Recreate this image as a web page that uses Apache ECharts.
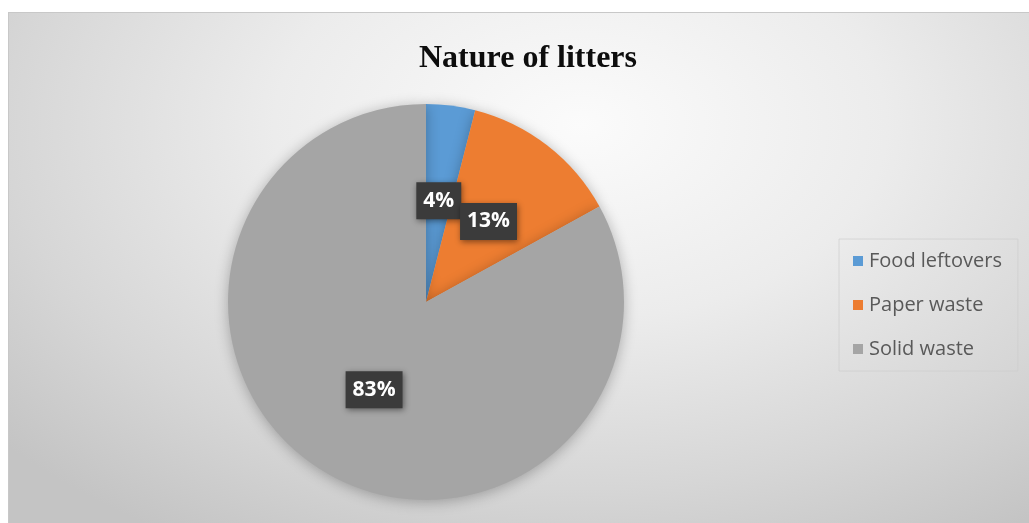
<!DOCTYPE html>
<html>
<head>
<meta charset="utf-8">
<script src="https://cdn.jsdelivr.net/npm/echarts@6/dist/echarts.min.js"></script>
<style>
  html, body { margin: 0; padding: 0; background: #ffffff; }
  #chart {
    position: absolute; left: 8px; top: 12px; width: 1021px; height: 511px;
    background: radial-gradient(ellipse 75% 95% at 56% 22%, #fbfbfb 0%, #ececec 40%, #d6d6d6 75%, #c4c4c4 100%);
    border-top: 1px solid #c8c8c8; border-left: 1px solid #c8c8c8;
    box-sizing: border-box;
  }
</style>
</head>
<body>
<div id="chart"></div>
<script>
// Composition of collected litter, in percent
const categories = ['Food leftovers', 'Paper waste', 'Solid waste'];
const shares = [4, 13, 83];
const colors = ['#5b9bd5', '#ed7d31', '#a5a5a5'];

const chart = echarts.init(document.getElementById('chart'), null, { renderer: 'canvas' });

chart.setOption({
  backgroundColor: 'transparent',
  animation: false,
  title: {
    text: 'Nature of litters',
    left: 405,
    top: 25,
    textStyle: {
      fontFamily: '"Liberation Serif", "DejaVu Serif", serif',
      fontWeight: 'bold',
      fontSize: 32,
      color: '#0d0d0d'
    }
  },
  legend: {
    orient: 'vertical',
    left: 830,
    top: 226,
    padding: [12, 16, 12, 14],
    itemWidth: 10,
    itemHeight: 10,
    itemGap: 24,
    borderWidth: 1,
    borderColor: 'rgba(205,205,205,0.7)',
    icon: 'rect',
    data: categories,
    textStyle: {
      fontFamily: '"Open Sans", "Noto Sans", sans-serif',
      fontSize: 20,
      color: '#595959',
      padding: [0, 0, 0, 1]
    }
  },
  series: [{
    type: 'pie',
    center: [417, 289],
    radius: 198,
    startAngle: 90,
    clockwise: true,
    avoidLabelOverlap: false,
    labelLayout: { hideOverlap: false },
    itemStyle: {
      borderWidth: 0,
      shadowBlur: 14,
      shadowOffsetX: 0,
      shadowOffsetY: 2,
      shadowColor: 'rgba(0,0,0,0.28)'
    },
    label: {
      show: true,
      position: 'inside',
      formatter: '{c}%',
      color: '#ffffff',
      fontFamily: '"Open Sans", "Liberation Sans", sans-serif',
      fontWeight: 'bold',
      fontSize: 21,
      backgroundColor: '#3b3b3b',
      padding: [9, 7, 7, 7],
      shadowBlur: 6,
      shadowColor: 'rgba(0,0,0,0.45)',
      shadowOffsetX: 1,
      shadowOffsetY: 2
    },
    labelLine: { show: false },
    emphasis: { disabled: true },
    data: categories.map((name, i) => ({
      name: name,
      value: shares[i],
      itemStyle: { color: colors[i] }
    }))
  }]
});
</script>
</body>
</html>
